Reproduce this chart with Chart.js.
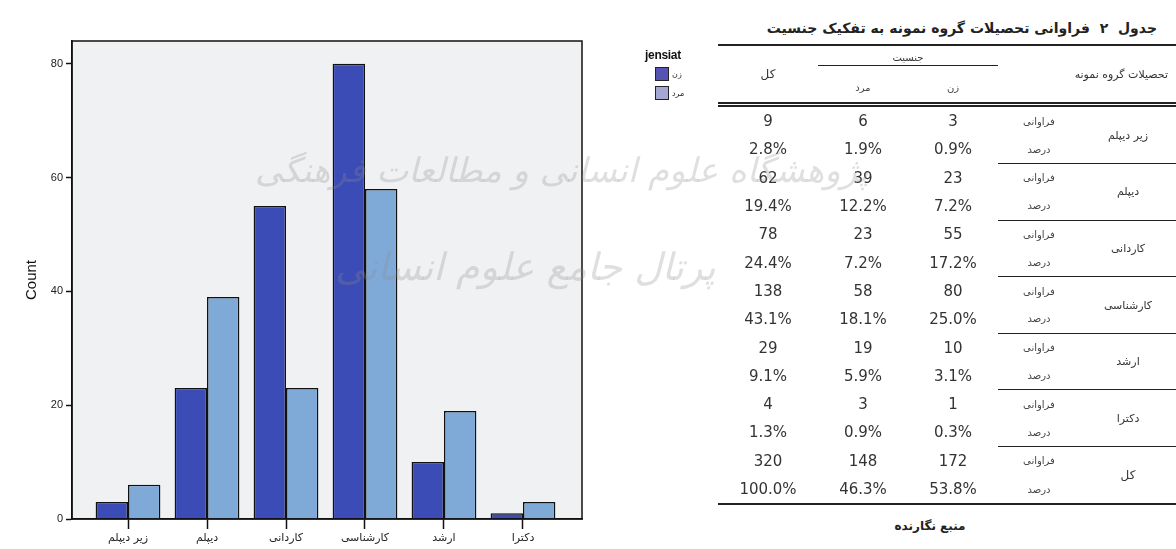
<!DOCTYPE html>
<html>
<head>
<meta charset="utf-8">
<script src="https://cdn.jsdelivr.net/npm/chart.js@4.4.1/dist/chart.umd.min.js"></script>
<style>
  body { margin: 0; width: 1176px; height: 549px; background: #fff; position: relative; overflow: hidden; font-family: "DejaVu Sans", sans-serif; }
  #chartBox { position: absolute; left: 0; top: 0; width: 720px; height: 549px; }
  #legend { position: absolute; left: 645px; top: 48px; width: 70px; font-family: "Liberation Sans", Arial, sans-serif; }
  #legend .ttl { font-size: 12px; color: #111; letter-spacing: -0.3px; font-weight: bold; }
  #legend .it { display: flex; align-items: center; margin-top: 5px; margin-left: 10px; }
  #legend .it:first-of-type { margin-top: 8px; }
  #legend .sw { width: 14px; height: 14px; border: 1.5px solid #222; box-sizing: border-box; }
  #legend .lb { font-family: "DejaVu Sans"; font-size: 8px; color: #222; margin-left: 3px; }
  #title { position: absolute; right: 19px; top: 20px; font-size: 14px; font-weight: bold; color: #222; direction: rtl; }
  #tbl { position: absolute; left: 718px; top: 44px; width: 458px; border-collapse: collapse; color: #333; table-layout: fixed; }
  #tbl td { padding: 0; text-align: center; vertical-align: middle; }
  #tbl tr.top td { border-top: 2px solid #222; }
  #tbl tr.h1 td { height: 26px; }
  #tbl tr.h2 td { height: 30px; }
  #tbl td.dbl { border-bottom: 5px double #222; }
  #tbl td.gender span { display: block; border-bottom: 1.5px solid #222; padding-bottom: 2px; font-size: 10px; }
  #tbl .fa { font-size: 11px; direction: rtl; }
  #tbl .big { font-size: 12px; }
  #tbl .sm { font-size: 10px; direction: rtl; color: #444; }
  #tbl .num { font-size: 15px; height: 28.3px; }
  #tbl td.sep { border-top: 1.5px solid #222; }
  #tbl td.end { border-bottom: 2px solid #222; }
  #src { position: absolute; left: 880px; top: 519px; width: 100px; text-align: center; font-size: 12px; font-weight: bold; color: #222; direction: rtl; }
  .wm { position: absolute; color: rgba(140,140,140,0.28); font-style: italic; direction: rtl; white-space: nowrap; pointer-events: none; }
</style>
</head>
<body>
<div id="chartBox"><canvas id="myChart" width="720" height="549"></canvas></div>
<div id="legend"></div>
<div id="title"></div>
<table id="tbl"></table>
<div id="src">منبع نگارنده</div>
<div class="wm" style="left:255px; top:150px; font-size:34px;">پژوهشگاه علوم انسانی و مطالعات فرهنگی</div>
<div class="wm" style="left:335px; top:245px; font-size:38px;">پرتال جامع علوم انسانی</div>

<script>
// chart data
const categories = ['زیر دیپلم', 'دیپلم', 'کاردانی', 'کارشناسی', 'ارشد', 'دکترا'];
const zan = [3, 23, 55, 80, 10, 1];
const mard = [6, 39, 23, 58, 19, 3];
const yTicks = [0, 20, 40, 60, 80];
const legendTitle = 'jensiat';

// table data
const tableTitle = 'جدول\u00a0 ۲ \u00a0فراوانی تحصیلات گروه نمونه به تفکیک جنسیت';
const tableRows = ['زیر دیپلم', 'دیپلم', 'کاردانی', 'کارشناسی', 'ارشد', 'دکترا', 'کل'];
const zanCount = [3, 23, 55, 80, 10, 1, 172];
const mardCount = [6, 39, 23, 58, 19, 3, 148];
const totalCount = [9, 62, 78, 138, 29, 4, 320];
const zanPct = ['0.9%', '7.2%', '17.2%', '25.0%', '3.1%', '0.3%', '53.8%'];
const mardPct = ['1.9%', '12.2%', '7.2%', '18.1%', '5.9%', '0.9%', '46.3%'];
const totalPct = ['2.8%', '19.4%', '24.4%', '43.1%', '9.1%', '1.3%', '100.0%'];

const darkBlue = '#3c4cb6';
const lightBlue = '#7faad8';

// frame + plot background
const framePlugin = {
    id: 'frame',
    beforeDraw(chart) {
        const a = chart.chartArea, ctx = chart.ctx;
        ctx.save();
        ctx.fillStyle = '#eff1f3';
        ctx.fillRect(a.left, a.top, a.right - a.left, a.bottom - a.top);
        ctx.restore();
    },
    afterDraw(chart) {
        const a = chart.chartArea, ctx = chart.ctx;
        ctx.save();
        ctx.strokeStyle = '#111';
        ctx.lineWidth = 1.5;
        ctx.strokeRect(a.left, a.top, a.right - a.left, a.bottom - a.top);
        ctx.restore();
    }
};

myChart = new Chart(document.getElementById('myChart'), {
    type: 'bar',
    data: {
        datasets: [
        {
            label: 'زن',
            data: zan.map((v, i) => ({x: i, y: v})),
            backgroundColor: darkBlue,
            borderColor: '#111',
            borderWidth: 1.5,
        },
        {
            label: 'مرد',
            data: mard.map((v, i) => ({x: i, y: v})),
            backgroundColor: lightBlue,
            borderColor: '#111',
            borderWidth: 1.5,
        },
        ]
    },
    options: {
        responsive: false,
        animation: false,
        layout: { padding: { top: 41, right: 138, left: 0, bottom: 0 } },
        datasets: { bar: { barPercentage: 1, categoryPercentage: 0.82 } },
        plugins: { legend: { display: false }, tooltip: { enabled: false } },
        scales: {
            x: {
                type: 'linear',
                offset: false,
                min: -0.709,
                max: 5.747,
                afterBuildTicks: s => { s.ticks = categories.map((c, i) => ({value: i})); },
                afterFit: s => { s.height = 30; },
                grid: { offset: false, drawOnChartArea: false, tickLength: 10, tickColor: '#111', tickWidth: 1.5 },
                border: { color: '#111', width: 1.5 },
                ticks: {
                    callback: v => categories[v],
                    font: { size: 11, family: 'DejaVu Sans' },
                    color: '#222', padding: 3, maxRotation: 0, autoSkip: false
                }
            },
            y: {
                min: 0,
                max: 84,
                afterBuildTicks: s => { s.ticks = yTicks.map(v => ({value: v})); },
                afterFit: s => { s.width = 72; },
                grid: { drawOnChartArea: false, tickLength: 6, tickColor: '#111', tickWidth: 1.5 },
                border: { color: '#111', width: 1.5 },
                ticks: { font: { size: 11, family: 'Liberation Sans' }, color: '#222', padding: 3 },
                title: { display: true, text: 'Count', font: { size: 15, family: 'Liberation Sans' }, color: '#111', padding: { top: 23, bottom: 0 } }
            }
        }
    },
    plugins: [framePlugin]
});

// legend
let lg = '<div class="ttl">' + legendTitle + '</div>';
[['زن', '#5753b2'], ['مرد', '#a4a7d4']].forEach(p => {
    lg += '<div class="it"><div class="sw" style="background:' + p[1] + '"></div><div class="lb">' + p[0] + '</div></div>';
});
document.getElementById('legend').innerHTML = lg;

// table
document.getElementById('title').textContent = tableTitle;
let h = '<colgroup><col style="width:100px"><col style="width:90px"><col style="width:90px"><col style="width:82px"><col style="width:96px"></colgroup>';
h += '<tr class="top h1"><td rowspan="2" class="fa big dbl">کل</td><td colspan="2" class="gender"><span>جنسیت</span></td>'
   + '<td colspan="2" rowspan="2" class="fa dbl" style="text-align:right;padding-right:8px">تحصیلات گروه نمونه</td></tr>';
h += '<tr class="h2"><td class="sm dbl">مرد</td><td class="sm dbl">زن</td></tr>';
for (let i = 0; i < tableRows.length; i++) {
    const sep = i > 0 ? ' sep' : '';
    const isLast = i == tableRows.length - 1;
    const end = isLast ? ' end' : '';
    const big = isLast ? ' big' : '';
    h += '<tr><td class="num">' + totalCount[i] + '</td><td class="num">' + mardCount[i] + '</td><td class="num">' + zanCount[i] + '</td>'
       + '<td class="sm' + sep + '">فراوانی</td><td rowspan="2" class="fa' + sep + big + end + '">' + tableRows[i] + '</td></tr>';
    h += '<tr><td class="num' + end + '">' + totalPct[i] + '</td><td class="num' + end + '">' + mardPct[i] + '</td><td class="num' + end + '">' + zanPct[i] + '</td>'
       + '<td class="sm' + end + '">درصد</td></tr>';
}
document.getElementById('tbl').innerHTML = h;
</script>
</body>
</html>
